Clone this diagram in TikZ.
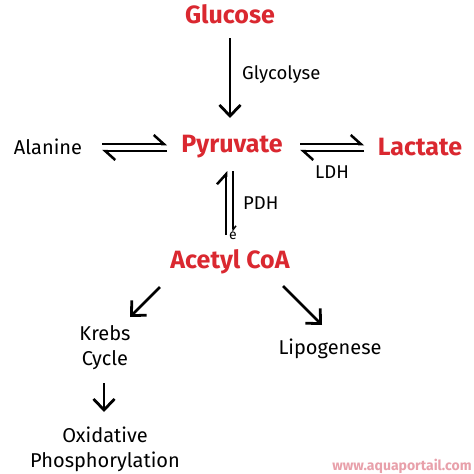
\documentclass[tikz,border=0pt]{standalone}
\usepackage{fontspec}
\setmainfont{Fira Sans}
\usetikzlibrary{arrows.meta}
\definecolor{gred}{RGB}{218,40,48}
\definecolor{wmark}{RGB}{232,160,170}
\begin{document}
\begin{tikzpicture}[x=1pt,y=-1pt,
  title/.style={text=gred,font=\fontsize{25}{25}\selectfont\bfseries,inner sep=0pt},
  lbl/.style={font=\fontsize{20}{25}\selectfont,align=center,inner sep=0pt},
  small/.style={font=\fontsize{18.5}{20}\selectfont,inner sep=0pt},
  arr/.style={line width=2.8pt,-{Straight Barb[length=11pt,width=21pt,line width=2.8pt]}},
  harp/.style={line width=2.5pt,-{Straight Barb[harpoon,length=10pt,width=18pt,line width=2.5pt]}}]
\useasboundingbox (0,0) rectangle (474,474);
\fill[white] (0,0) rectangle (474,474);

% nodes
\node[title] (glu) at (230,14) {Glucose};
\node[title] (pyr) at (232,147) {Pyruvate};
\node[title] (lac) at (420,147) {Lactate};
\node[title] (acc) at (230,262) {Acetyl CoA};
\node[lbl] (ala) at (48,147) {Alanine};
\node[lbl] (krebs) at (105,348) {Krebs\\Cycle};
\node[lbl] (lipo) at (330,349) {Lipogenese};
\node[lbl] (oxi) at (105,449) {Oxidative\\Phosphorylation};
\node[small,anchor=west] (gly) at (242,75) {Glycolyse};
\node[small] (ldh) at (332,172) {LDH};
\node[small,anchor=west] (pdh) at (243,203) {PDH};
\node[font=\fontsize{14}{14}\selectfont,inner sep=0pt] (e) at (233,236) {e};
\node[text=wmark,font=\fontsize{14}{14}\selectfont\bfseries,inner sep=0pt] (wm) at (402,466) {www.aquaportail.com};

% coordinates for arrow ends
\coordinate (g1) at (230,38);
\coordinate (g2) at (230,118);
\coordinate (la1) at (102,144);
\coordinate (la2) at (167,144);
\coordinate (lb1) at (167,151);
\coordinate (lb2) at (102,151);
\coordinate (ra1) at (300,144);
\coordinate (ra2) at (364,144);
\coordinate (rb1) at (364,151);
\coordinate (rb2) at (300,151);
\coordinate (va1) at (226,235);
\coordinate (va2) at (226,171);
\coordinate (vb1) at (233,171);
\coordinate (vb2) at (233,232);
\coordinate (k1) at (160,287);
\coordinate (k2) at (130,317);
\coordinate (l1) at (283,286);
\coordinate (l2) at (322,325);
\coordinate (o1) at (104,383);
\coordinate (o2) at (104,412);

% arrows
\draw[arr] (g1) -- (g2);
\draw[harp] (la1) -- (la2);
\draw[harp] (lb1) -- (lb2);
\draw[harp] (ra1) -- (ra2);
\draw[harp] (rb1) -- (rb2);
\draw[harp] (va1) -- (va2);
\draw[line width=2.5pt,-{Straight Barb[harpoon,length=4pt,width=6pt,line width=1.5pt]}] (vb1) -- (vb2);
\draw[arr] (k1) -- (k2);
\draw[arr] (l1) -- (l2);
\draw[arr] (o1) -- (o2);
\end{tikzpicture}
\end{document}
